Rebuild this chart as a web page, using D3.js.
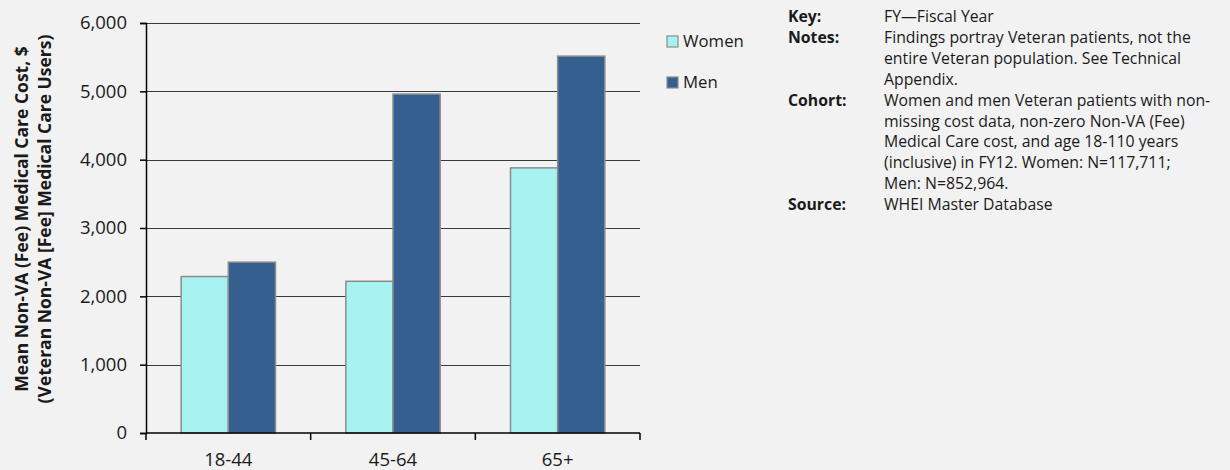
<!DOCTYPE html>
<html lang="en">
  <head>
    <meta charset="UTF-8" />
    <title>Mean Non-VA (Fee) Medical Care Cost</title>
    <script src="https://d3js.org/d3.v7.min.js"></script>
    <style>
      html, body {
        margin: 0;
        padding: 0;
        background: #f2f2f2;
      }
      svg {
        display: block;
        font-family: "Open Sans", sans-serif;
      }
      .grid line {
        stroke: #3a3a3a;
        stroke-width: 1;
      }
      .bar {
        stroke: #8c8c8c;
        stroke-width: 1.5px;
      }
    </style>
  </head>
  <body>
    <svg id="chart"></svg>
  </body>
  <script>
    const width = 1230;
    const height = 470;

    // data
    const ageGroups = ["18-44", "45-64", "65+"];
    const seriesNames = ["Women", "Men"];
    const womenCost = [2290, 2220, 3880];
    const menCost = [2500, 4960, 5515];
    const yTicks = [0, 1000, 2000, 3000, 4000, 5000, 6000];
    const yTitle = [
      "Mean Non-VA (Fee) Medical Care Cost, $",
      "(Veteran Non-VA [Fee] Medical Care Users)",
    ];
    const notes = [
      { label: "Key:", lines: ["FY\u2014Fiscal Year"] },
      {
        label: "Notes:",
        lines: [
          "Findings portray Veteran patients, not the",
          "entire Veteran population. See Technical",
          "Appendix.",
        ],
      },
      {
        label: "Cohort:",
        lines: [
          "Women and men Veteran patients with non-",
          "missing cost data, non-zero Non-VA (Fee)",
          "Medical Care cost, and age 18-110 years",
          "(inclusive) in FY12. Women: N=117,711;",
          "Men: N=852,964.",
        ],
      },
      { label: "Source:", lines: ["WHEI Master Database"] },
    ];

    const colors = { Women: "#a6f3f2", Men: "#355f8f" };

    const rows = ageGroups.map((g, i) => ({
      group: g,
      values: [
        { key: "Women", value: womenCost[i] },
        { key: "Men", value: menCost[i] },
      ],
    }));

    const margin = { top: 23, left: 146, right: 590, bottom: 37 };
    const plotW = width - margin.left - margin.right;
    const plotH = height - margin.top - margin.bottom;

    const svg = d3
      .select("#chart")
      .attr("width", width)
      .attr("height", height);

    const g = svg
      .append("g")
      .attr("transform", `translate(${margin.left},${margin.top})`);

    const x0 = d3.scaleBand().domain(ageGroups).range([0, plotW]).padding(0);
    const x1 = d3
      .scaleBand()
      .domain(seriesNames)
      .range([0, x0.bandwidth()])
      .paddingInner(0)
      .paddingOuter(0.746);
    const y = d3.scaleLinear().domain([0, 6000]).range([plotH, 0]);

    // gridlines
    g.append("g")
      .attr("class", "grid")
      .selectAll("line")
      .data(yTicks.filter((t) => t > 0))
      .join("line")
      .attr("x1", 0)
      .attr("x2", plotW)
      .attr("y1", (d) => Math.round(y(d)) + 0.5)
      .attr("y2", (d) => Math.round(y(d)) + 0.5);

    // bars
    g.append("g")
      .selectAll("g")
      .data(rows)
      .join("g")
      .attr("transform", (d) => `translate(${x0(d.group)},0)`)
      .selectAll("rect")
      .data((d) => d.values)
      .join("rect")
      .attr("class", "bar")
      .attr("x", (d) => x1(d.key))
      .attr("width", x1.bandwidth())
      .attr("y", (d) => y(d.value))
      .attr("height", (d) => plotH - y(d.value))
      .attr("fill", (d) => colors[d.key]);

    // y axis
    const yAxis = g
      .append("g")
      .call(
        d3
          .axisLeft(y)
          .tickValues(yTicks)
          .tickSize(6)
          .tickPadding(13)
          .tickFormat(d3.format(","))
      );
    yAxis.select(".domain").attr("stroke", "#000").attr("stroke-width", 1.5);
    yAxis.selectAll(".tick line").attr("stroke", "#000").attr("stroke-width", 1.5);
    yAxis
      .selectAll("text")
      .attr("font-family", "Open Sans, sans-serif")
      .attr("font-size", 18.5)
      .attr("fill", "#1a1a1a");

    // x axis, ticks at category boundaries
    const xAxis = g.append("g").attr("transform", `translate(0,${plotH})`);
    xAxis
      .append("line")
      .attr("x1", 0)
      .attr("x2", plotW)
      .attr("stroke", "#000")
      .attr("stroke-width", 1.5);
    xAxis
      .selectAll("line.tick")
      .data(ageGroups.concat(["end"]))
      .join("line")
      .attr("class", "tick")
      .attr("x1", (d, i) => i * x0.step())
      .attr("x2", (d, i) => i * x0.step())
      .attr("y1", 0)
      .attr("y2", 7)
      .attr("stroke", "#000")
      .attr("stroke-width", 1.5);
    xAxis
      .selectAll("text")
      .data(ageGroups)
      .join("text")
      .attr("x", (d) => x0(d) + x0.bandwidth() / 2)
      .attr("y", 33)
      .attr("text-anchor", "middle")
      .attr("font-size", 18.5)
      .attr("fill", "#1a1a1a")
      .text((d) => d);

    // y title
    const title = svg
      .append("text")
      .attr("transform", "translate(0,219) rotate(-90)")
      .attr("text-anchor", "middle")
      .attr("font-weight", "bold")
      .attr("font-size", 17.5)
      .attr("fill", "#1a1a1a");
    yTitle.forEach((t, i) => {
      title
        .append("tspan")
        .attr("x", 0)
        .attr("y", 28 + i * 23)
        .text(t);
    });

    // legend
    const legend = svg
      .append("g")
      .selectAll("g")
      .data(seriesNames)
      .join("g")
      .attr("transform", (d, i) => `translate(667,${36 + i * 41})`);
    legend
      .append("rect")
      .attr("width", 11)
      .attr("height", 11)
      .attr("fill", (d) => colors[d])
      .attr("stroke", "#8c8c8c")
      .attr("stroke-width", 1.2);
    legend
      .append("text")
      .attr("x", 16)
      .attr("y", 11)
      .attr("font-size", 16.8)
      .attr("fill", "#1a1a1a")
      .text((d) => d);

    // notes block
    const notesG = svg.append("g").attr("font-size", 15.8).attr("fill", "#1a1a1a");
    let line = 0;
    notes.forEach((n) => {
      notesG
        .append("text")
        .attr("x", 788)
        .attr("y", 22 + line * 20.9)
        .attr("font-weight", "bold")
        .text(n.label);
      n.lines.forEach((l) => {
        notesG
          .append("text")
          .attr("x", 884)
          .attr("y", 22 + line * 20.9)
          .text(l);
        line++;
      });
    });
  </script>
</html>
